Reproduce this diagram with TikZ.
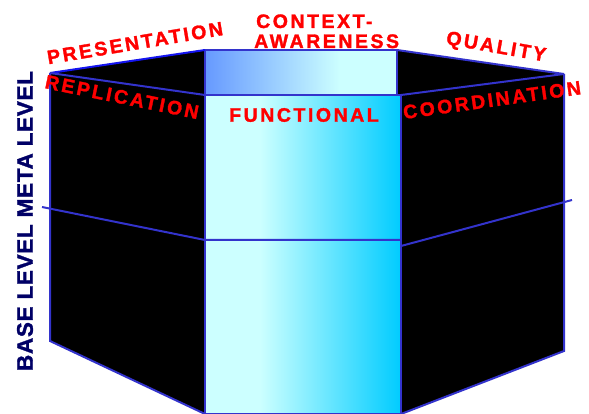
\documentclass[tikz,border=0pt]{standalone}
\usepackage{fontspec}
\newfontfamily\lblfont{Liberation Sans}[LetterSpace=13,FakeBold=1.5]
\newfontfamily\navyfont{Liberation Sans}[LetterSpace=3,FakeBold=1.5]
\definecolor{edge}{RGB}{51,51,204}
\definecolor{edgeb}{RGB}{20,20,240}
\definecolor{lblred}{RGB}{255,0,0}
\definecolor{navy}{RGB}{0,0,102}
\definecolor{cyanl}{RGB}{204,255,255}
\definecolor{cyand}{RGB}{0,204,255}
\definecolor{bluel}{RGB}{102,153,255}
\pgfdeclarehorizontalshading{colshade}{100bp}{color(0bp)=(cyanl); color(39bp)=(cyanl); color(75bp)=(cyand); color(100bp)=(cyand)}
\pgfdeclarehorizontalshading{topshade}{100bp}{color(0bp)=(bluel); color(25bp)=(bluel); color(60bp)=(cyanl); color(100bp)=(cyanl)}
\tikzset{
  panel/.style={fill=black},
  edgeline/.style={draw=edge, line width=2pt},
  lbl/.style={text=lblred, font=\lblfont\bfseries\fontsize{19.5}{20}\selectfont, inner sep=0pt},
  side/.style={text=navy, font=\navyfont\bfseries\fontsize{22.5}{24}\selectfont, inner sep=0pt}
}
\begin{document}
\begin{tikzpicture}[x=1pt,y=-1pt]
\useasboundingbox (0,0) rectangle (589,414);
% corner coordinates
\coordinate (LT) at (50,73);
\coordinate (LB) at (50,341);
\coordinate (BT) at (205,50);
\coordinate (BTR) at (397,50);
\coordinate (FT) at (205,95);
\coordinate (FTR) at (401,95);
\coordinate (FB) at (205,414);
\coordinate (FBR) at (401,414);
\coordinate (RT) at (564,74);
\coordinate (RB) at (564,351);
\coordinate (ML) at (42,207);
\coordinate (MC) at (205,240);
\coordinate (MCR) at (401,240);
\coordinate (MRs) at (401,246);
\coordinate (MR) at (572,200);
% black side panels
\fill[panel] (LT) -- (BT) -- (FB) -- (LB) -- cycle;
\fill[panel] (BTR) -- (RT) -- (RB) -- (FBR) -- (FTR) -- (397,95) -- cycle;
% top back face
\shade[shading=topshade] (BT) rectangle (397,95);
\draw[edgeline] (BT) rectangle (397,95);
% front column
\shade[shading=colshade] (FT) rectangle (FBR);
\draw[edgeline] (FT) rectangle (FBR);
% edges of left panel
\draw[edgeline, draw=edgeb] (LT) -- (BT);
\draw[edgeline] (LT) -- (FT);
\draw[edgeline] (LT) -- (LB) -- (FB);
% edges of right panel
\draw[edgeline] (BTR) -- (RT);
\draw[edgeline] (FTR) -- (RT);
\draw[edgeline] (RT) -- (RB) -- (FBR);
% meta/base divider
\draw[edgeline] (ML) -- (MC) -- (MCR);
\draw[edgeline] (MRs) -- (MR);
% labels
\node[lbl, rotate=9.5] (pres) at (135,43) {PRESENTATION};
\node[lbl, rotate=-11.5] (repl) at (122,97) {REPLICATION};
\node[lbl, anchor=base west] (ctx1) at (256,28) {CONTEXT-};
\node[lbl, anchor=base west] (ctx2) at (254,48) {AWARENESS};
\node[lbl, rotate=-10] (qual) at (496,48) {QUALITY};
\node[lbl, rotate=8] (coord) at (492,100) {COORDINATION};
\node[lbl] (func) at (304,115) {FUNCTIONAL};
\node[side, rotate=90] (levels) at (25,221) {BASE LEVEL META LEVEL};
\end{tikzpicture}
\end{document}
